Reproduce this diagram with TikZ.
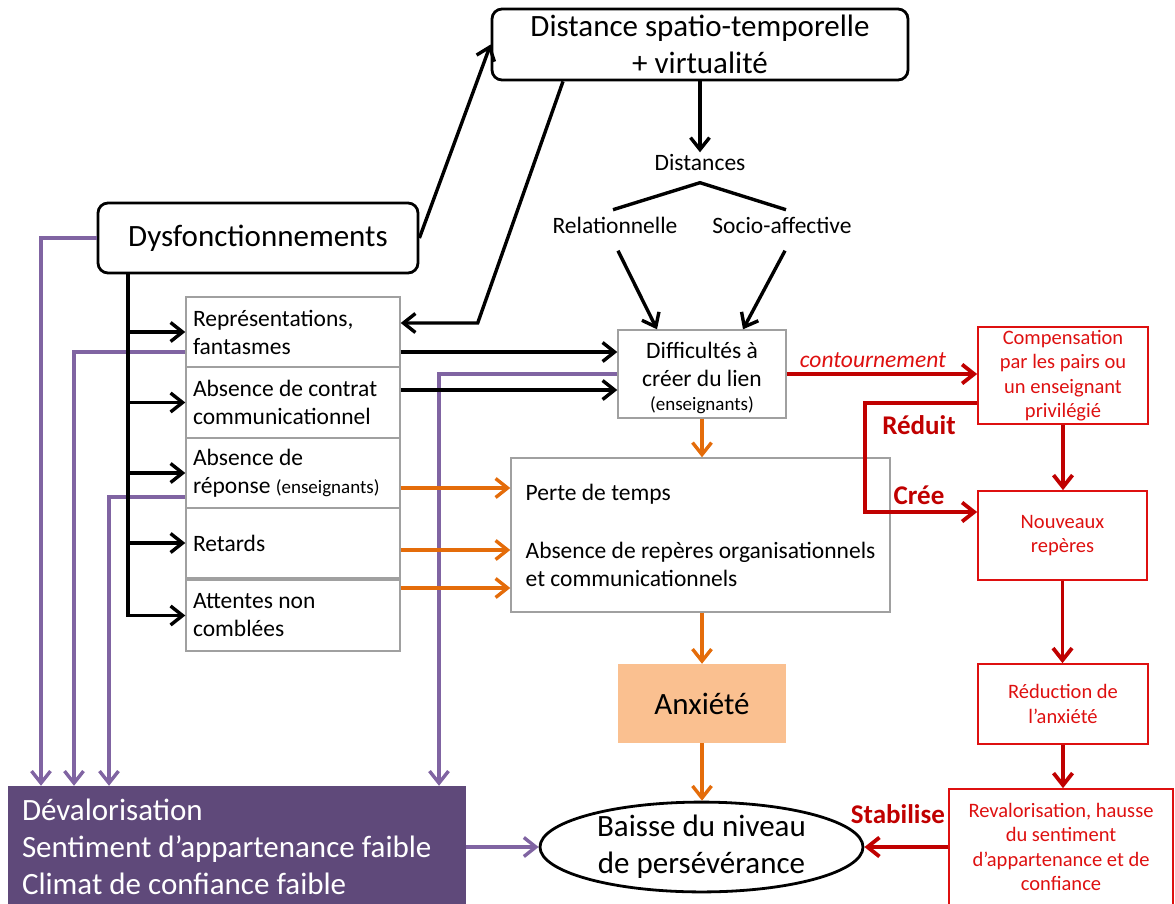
\documentclass[tikz,border=0pt]{standalone}
\usepackage{fontspec}
\setmainfont{Carlito}
\definecolor{dvpurple}{RGB}{95,73,122}
\definecolor{lnpurple}{RGB}{128,100,162}
\definecolor{lnorange}{RGB}{228,108,10}
\definecolor{anxpeach}{RGB}{250,192,144}
\definecolor{lnred}{RGB}{192,0,0}
\definecolor{boxred}{RGB}{222,16,16}
\definecolor{boxgray}{RGB}{160,160,160}
\usetikzlibrary{arrows.meta,positioning,shapes.geometric,calc}

\newcommand{\fbody}{\fontsize{23.5}{28}\selectfont}
\newcommand{\fbig}{\fontsize{31}{37}\selectfont}
\newcommand{\fsmall}{\fontsize{19}{23}\selectfont}
\newcommand{\fred}{\fontsize{20.5}{24.5}\selectfont}
\newcommand{\flbl}{\fontsize{27}{30}\selectfont\bfseries}

\tikzset{
  topbox/.style={draw, line width=2.8pt, rounded corners=10pt, align=center, font=\fbig, inner sep=0pt},
  stackbox/.style={draw=boxgray, line width=1.4pt, minimum width=214pt, text width=200pt, inner xsep=7pt, align=flush left, font=\fbody},
  graybox/.style={draw=boxgray, line width=1.4pt, inner sep=2pt, font=\fbody},
  redbox/.style={draw=boxred, line width=1.7pt, text=boxred, inner sep=2pt, align=center, font=\fred},
  redlbl/.style={text=lnred, font=\flbl, inner sep=1pt},
  lbl/.style={font=\fbody, text height=16pt, text depth=5pt, inner sep=2pt},
  tip/.style={-{Straight Barb[length=12pt,width=19pt]}},
  kline/.style={line width=3.4pt},
  pline/.style={line width=3.4pt, draw=lnpurple},
  oline/.style={line width=3.4pt, draw=lnorange},
  rline/.style={line width=3.8pt, draw=lnred}
}

\begin{document}
\begin{tikzpicture}[x=1pt, y=-1pt]
  \useasboundingbox (0,0) rectangle (1175,903);

  \node[topbox, minimum width=416pt, minimum height=71pt] (top) at (700,44.5) {Distance spatio-temporelle\\+ virtualité};
  \node[topbox, minimum width=320pt, minimum height=70pt] (dys) at (258,238) {Dysfonctionnements};

  \node[lbl] (dist) at (700,165) {Distances};
  \node[lbl] (rel) at (615,228) {Relationnelle};
  \node[lbl] (socio) at (782,228) {Socio-affective};

  \node[stackbox, minimum height=70pt] (rep) at (293,332) {Représentations,\\fantasmes};
  \node[stackbox, minimum height=71pt] (contrat) at (293,402.5) {Absence de contrat\\communicationnel};
  \node[stackbox, minimum height=70pt] (reponse) at (293,473) {Absence de\\réponse {\fsmall(enseignants)}};
  \node[stackbox, minimum height=70pt] (retards) at (293,543) {Retards};
  \node[stackbox, minimum height=71pt] (attentes) at (293,615.5) {Attentes non\\comblées};

  \node[graybox, minimum width=168pt, minimum height=88pt, align=center] (diff) at (702,374) {\rule{0pt}{24pt}Difficultés à\\créer du lien\\[-4pt]{\fsmall(enseignants)}};
  \node[graybox, minimum width=379pt, minimum height=154pt, align=left] (perte) at (700.5,535) {Perte de temps\\[30pt]Absence de repères organisationnels\\et communicationnels};
  \node[fill=anxpeach, minimum width=168pt, minimum height=79pt, font=\fbig] (anx) at (702,703.5) {Anxiété};
  \node[ellipse, draw, line width=2.8pt, minimum width=323pt, minimum height=88pt, inner sep=0pt, align=center, font=\fbig] (ell) at (701.5,847) {Baisse du niveau\\de persévérance};
  \node[fill=dvpurple, text=white, minimum width=458pt, minimum height=122pt, text width=430pt, inner xsep=14pt, align=flush left, font=\fbig] (dev) at (237,847) {Dévalorisation\\Sentiment d’appartenance faible\\Climat de confiance faible};

  \node[redbox, minimum width=170pt, minimum height=97pt] (comp) at (1063,375.5) {Compensation\\par les pairs ou\\un enseignant\\privilégié};
  \node[redbox, minimum width=169pt, minimum height=89pt] (nouv) at (1062.5,535.5) {Nouveaux\\repères};
  \node[redbox, minimum width=170pt, minimum height=80pt] (reduc) at (1063,704) {Réduction de\\l’anxiété};
  \node[redbox, minimum width=224pt, minimum height=116pt] (reval) at (1061,847) {Revalorisation, hausse\\du sentiment\\d’appartenance et de\\confiance};

  \node[redlbl] (reduit) at (919,425) {Réduit};
  \node[redlbl] (cree) at (919,495) {Crée};
  \node[redlbl, anchor=east] (stab) at (946,814) {Stabilise};

  \draw[pline, tip] (dys.west) -| ([xshift=-196pt]dev.north);
  \draw[pline, tip] ([yshift=-20pt]rep.west) -| ([xshift=-163pt]dev.north);
  \draw[pline, tip] ([yshift=-24pt]reponse.west) -| ([xshift=-128pt]dev.north);
  \draw[pline, tip] (diff.west) -| ([xshift=202pt]dev.north);
  \draw[pline, tip] (dev.east) -- (ell.west);

  \draw[kline, tip] (dys.east) -- (top.west);
  \draw[kline, tip] ([xshift=-137pt]top.south) -- ([xshift=77pt,yshift=9pt]rep.east) -- ([yshift=9pt]rep.east);
  \draw[kline, tip] (top.south) -- (dist.north);
  \coordinate (fork) at ([yshift=-5pt]dist.south);
  \draw[kline] ([xshift=-87pt,yshift=-32pt]dist.south) -- (fork) -- ([xshift=86pt,yshift=-32pt]dist.south);
  \draw[kline, tip] ([xshift=3pt,yshift=-10pt]rel.south) -- ([xshift=-45pt]diff.north);
  \draw[kline, tip] ([xshift=3pt,yshift=-10pt]socio.south) -- ([xshift=41pt]diff.north);

  \coordinate (trunk) at ([xshift=-130pt]dys.south);
  \draw[kline, tip] (trunk) |- (attentes.west);
  \foreach \b in {rep,contrat,reponse,retards}
    \draw[kline, tip] (trunk |- \b.west) -- (\b.west);

  \coordinate (k1) at ([yshift=-20pt]rep.east);
  \coordinate (k2) at ([yshift=12.5pt]contrat.east);
  \foreach \c in {k1,k2}
    \draw[kline, tip] (\c) -- (\c -| diff.west);

  \coordinate (o1) at ([yshift=-15pt]reponse.east);
  \coordinate (o2) at ([yshift=-7pt]retards.east);
  \coordinate (o3) at ([yshift=27.5pt]attentes.east);
  \foreach \c in {o1,o2,o3}
    \draw[oline, tip] (\c) -- (\c -| perte.west);
  \draw[oline, tip] (diff.south) -- (diff.south |- perte.north);
  \draw[oline, tip] (anx.north |- perte.south) -- (anx.north);
  \draw[oline, tip] (anx.south) -- (anx.south |- ell.north);

  \draw[rline, tip] (diff.east) -- (diff.east -| comp.west) node[midway, above=1pt, xshift=-9pt, text=boxred, font=\fbody\itshape] {contournement};
  \draw[rline, tip] ([yshift=-27.5pt]comp.west) -- ++(-112,0) |- ([yshift=23.5pt]nouv.west);
  \draw[rline, tip] (comp.south) -- (comp.south |- nouv.north);
  \draw[rline, tip] (nouv.south) -- (nouv.south |- reduc.north);
  \draw[rline, tip] (reduc.south) -- (reduc.south |- reval.north);
  \draw[rline, tip] (reval.west) -- (ell.east);
\end{tikzpicture}
\end{document}
